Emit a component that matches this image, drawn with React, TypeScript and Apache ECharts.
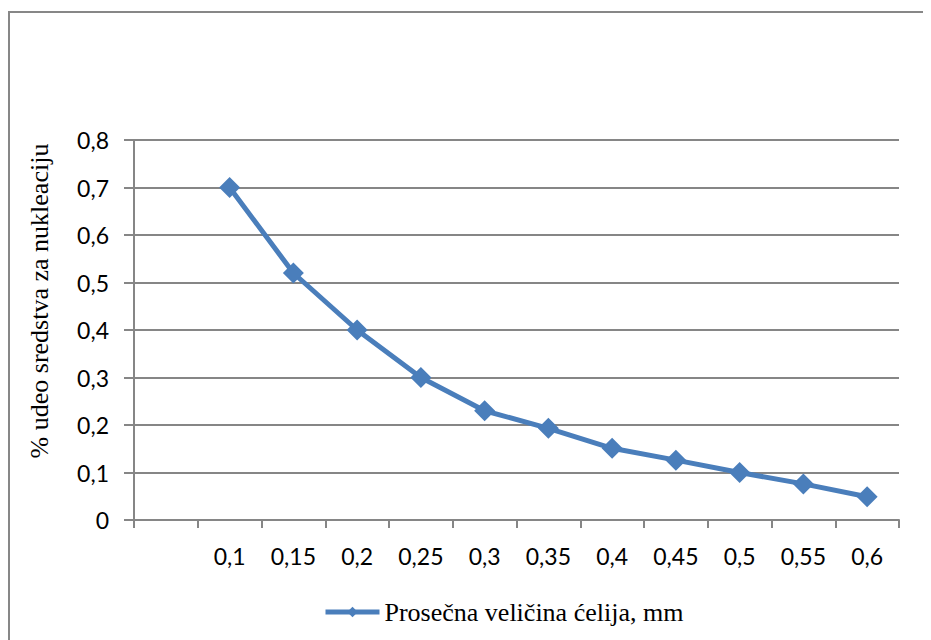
import React, { useEffect, useRef } from "react";
import * as echarts from "echarts";

const categories = ["", "0,1", "0,15", "0,2", "0,25", "0,3", "0,35", "0,4", "0,45", "0,5", "0,55", "0,6"];
const values = [null, 0.7, 0.52, 0.4, 0.3, 0.23, 0.193, 0.151, 0.126, 0.1, 0.076, 0.049];
const seriesName = "Prosečna veličina ćelija, mm";
const yTitle = "% udeo sredstva za nukleaciju";

export default function App() {
  const ref = useRef<HTMLDivElement>(null);
  useEffect(() => {
    const chart = echarts.init(ref.current!, null, { renderer: "svg" });
    const gray = "#868686";
    const blue = "#4A7EBB";
    chart.setOption({
      animation: false,
      backgroundColor: "#fff",
      grid: { left: 126, top: 132, right: 32, bottom: 120, containLabel: false },
      graphic: [
        {
          type: "rect",
          shape: { x: 1, y: 4, width: 3000, height: 3000 },
          style: { fill: "none", stroke: "#878787", lineWidth: 2 },
          silent: true,
        },
      ],
      legend: {
        left: 310,
        top: 586,
        itemWidth: 54,
        itemHeight: 13,
        data: [seriesName],
        lineStyle: { width: 5, color: blue },
        itemStyle: { color: blue },
        textStyle: { fontFamily: "Liberation Serif", fontSize: 26, color: "#000" },
      },
      xAxis: {
        type: "category",
        data: categories,
        boundaryGap: true,
        axisLine: { show: true, lineStyle: { color: gray, width: 2 } },
        axisTick: { show: true, length: 8, lineStyle: { color: gray, width: 2 }, interval: 0 },
        axisLabel: {
          interval: 0,
          margin: 24,
          fontFamily: "Lato",
          fontSize: 23,
          color: "#000",
        },
        splitLine: { show: false },
      },
      yAxis: {
        type: "value",
        min: 0,
        max: 0.8,
        interval: 0.1,
        name: yTitle,
        nameLocation: "middle",
        nameRotate: 90,
        nameGap: 82,
        nameTextStyle: {
          fontFamily: "Liberation Serif",
          fontSize: 26,
          color: "#000",
          padding: [0, 0, 0, 58],
        },
        axisLine: { show: true, lineStyle: { color: gray, width: 2 } },
        axisTick: { show: true, length: 10, lineStyle: { color: gray, width: 2 } },
        axisLabel: {
          margin: 25,
          fontFamily: "Lato",
          fontSize: 23,
          color: "#000",
          formatter: (v: number) => String(Math.round(v * 10) / 10).replace(".", ","),
        },
        splitLine: { show: true, lineStyle: { color: gray, width: 2 } },
      },
      series: [
        {
          name: seriesName,
          type: "line",
          data: values,
          symbol: "diamond",
          symbolSize: 21,
          lineStyle: { color: blue, width: 5 },
          itemStyle: { color: blue },
          connectNulls: false,
        },
      ],
    });
    return () => chart.dispose();
  }, []);
  return <div ref={ref} style={{ width: 923, height: 632 }} />;
}
